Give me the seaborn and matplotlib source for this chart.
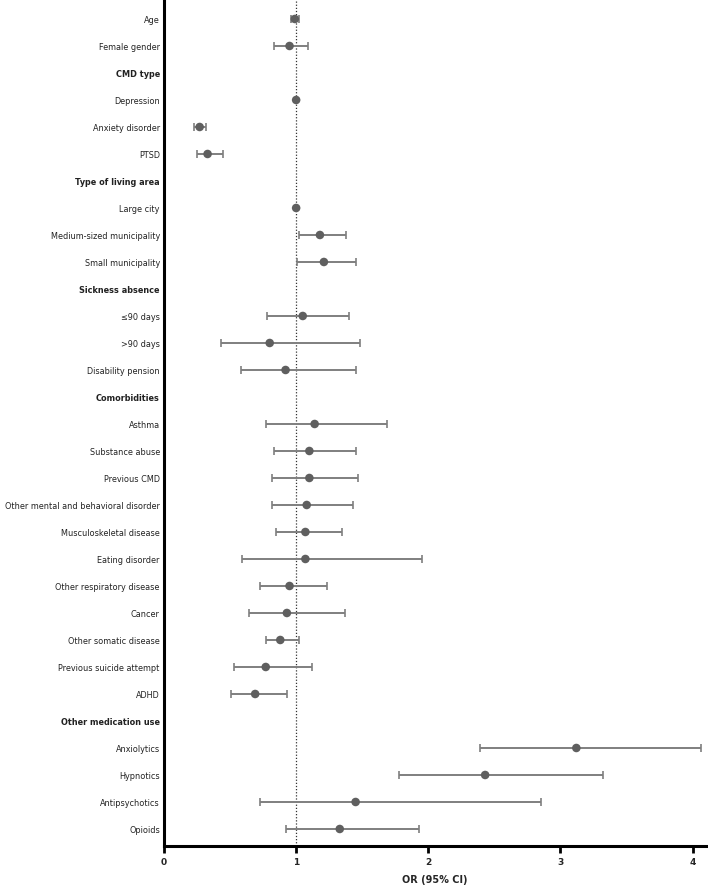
import numpy as np
import pandas as pd
import matplotlib.pyplot as plt
import seaborn as sns

# forest plot data (nan = header row / reference with no CI)
labels = ["Age", "Female gender", "CMD type", "Depression", "Anxiety disorder", "PTSD",
          "Type of living area", "Large city", "Medium-sized municipality", "Small municipality",
          "Sickness absence", "\u226490 days", ">90 days", "Disability pension",
          "Comorbidities", "Asthma", "Substance abuse", "Previous CMD",
          "Other mental and behavioral disorder", "Musculoskeletal disease", "Eating disorder",
          "Other respiratory disease", "Cancer", "Other somatic disease",
          "Previous suicide attempt", "ADHD",
          "Other medication use", "Anxiolytics", "Hypnotics", "Antipsychotics", "Opioids"]
headers = ["CMD type", "Type of living area", "Sickness absence", "Comorbidities", "Other medication use"]
odds = [0.99, 0.95, np.nan, 1.0, 0.27, 0.33,
        np.nan, 1.0, 1.18, 1.21,
        np.nan, 1.05, 0.80, 0.92,
        np.nan, 1.14, 1.10, 1.10, 1.08, 1.07, 1.07,
        0.95, 0.93, 0.88, 0.77, 0.69,
        np.nan, 3.12, 2.43, 1.45, 1.33]
ci_low = [0.96, 0.83, np.nan, np.nan, 0.23, 0.25,
          np.nan, np.nan, 1.02, 1.01,
          np.nan, 0.78, 0.43, 0.58,
          np.nan, 0.77, 0.83, 0.82, 0.82, 0.85, 0.59,
          0.73, 0.64, 0.77, 0.53, 0.51,
          np.nan, 2.39, 1.78, 0.73, 0.92]
ci_high = [1.02, 1.09, np.nan, np.nan, 0.32, 0.45,
           np.nan, np.nan, 1.38, 1.45,
           np.nan, 1.40, 1.48, 1.45,
           np.nan, 1.69, 1.45, 1.47, 1.43, 1.35, 1.95,
           1.23, 1.37, 1.02, 1.12, 0.93,
           np.nan, 4.06, 3.32, 2.85, 1.93]

df = pd.DataFrame({"label": labels, "or": odds, "lo": ci_low, "hi": ci_high})
df["pos"] = np.arange(len(df))

sns.set_style("white")
plt.rcParams['font.family'] = ['DejaVu Sans']

fig = plt.figure(figsize=(7.08, 8.87), dpi=100)
ax = fig.add_axes([0.2316, 0.0451, 0.7654, 0.9549])

ax.axvline(1, color="#333333", linestyle=(0, (1, 1.5)), linewidth=0.9, zorder=1)

ci = df.dropna(subset=["lo"])
ax.errorbar(ci["or"], ci["pos"], xerr=[ci["or"] - ci["lo"], ci["hi"] - ci["or"]],
            fmt="none", ecolor="#7f7f7f", elinewidth=1.4, capsize=3, capthick=1.2, zorder=2)
sns.scatterplot(data=df.dropna(subset=["or"]), x="or", y="pos", color="#5f5f5f",
                s=38, edgecolor="none", zorder=3, ax=ax)

ax.set_ylim(len(df) - 1 + 0.63, -0.74)
ax.set_xlim(0, 4.1)
ax.set_yticks(df["pos"])
ax.set_yticklabels(df["label"], fontsize=5.9, color="#222222")
for t in ax.get_yticklabels():
    if t.get_text() in headers:
        t.set_fontweight("bold")
ax.tick_params(axis="y", length=0, pad=3)
ax.set_xticks([0, 1, 2, 3, 4])
ax.set_xticklabels(["0", "1", "2", "3", "4"], fontsize=6.5, fontweight="bold")
ax.tick_params(axis="x", length=5, width=2, direction="out", pad=3, color="black", bottom=True)
ax.set_xlabel("OR (95% CI)", fontsize=7, fontweight="bold", labelpad=6)
ax.set_ylabel("")

sns.despine(ax=ax, top=True, right=True)
ax.spines["left"].set_linewidth(2.2)
ax.spines["bottom"].set_linewidth(2.2)
ax.spines["left"].set_color("black")
ax.spines["bottom"].set_color("black")

fig.savefig("out.png", dpi=100)
